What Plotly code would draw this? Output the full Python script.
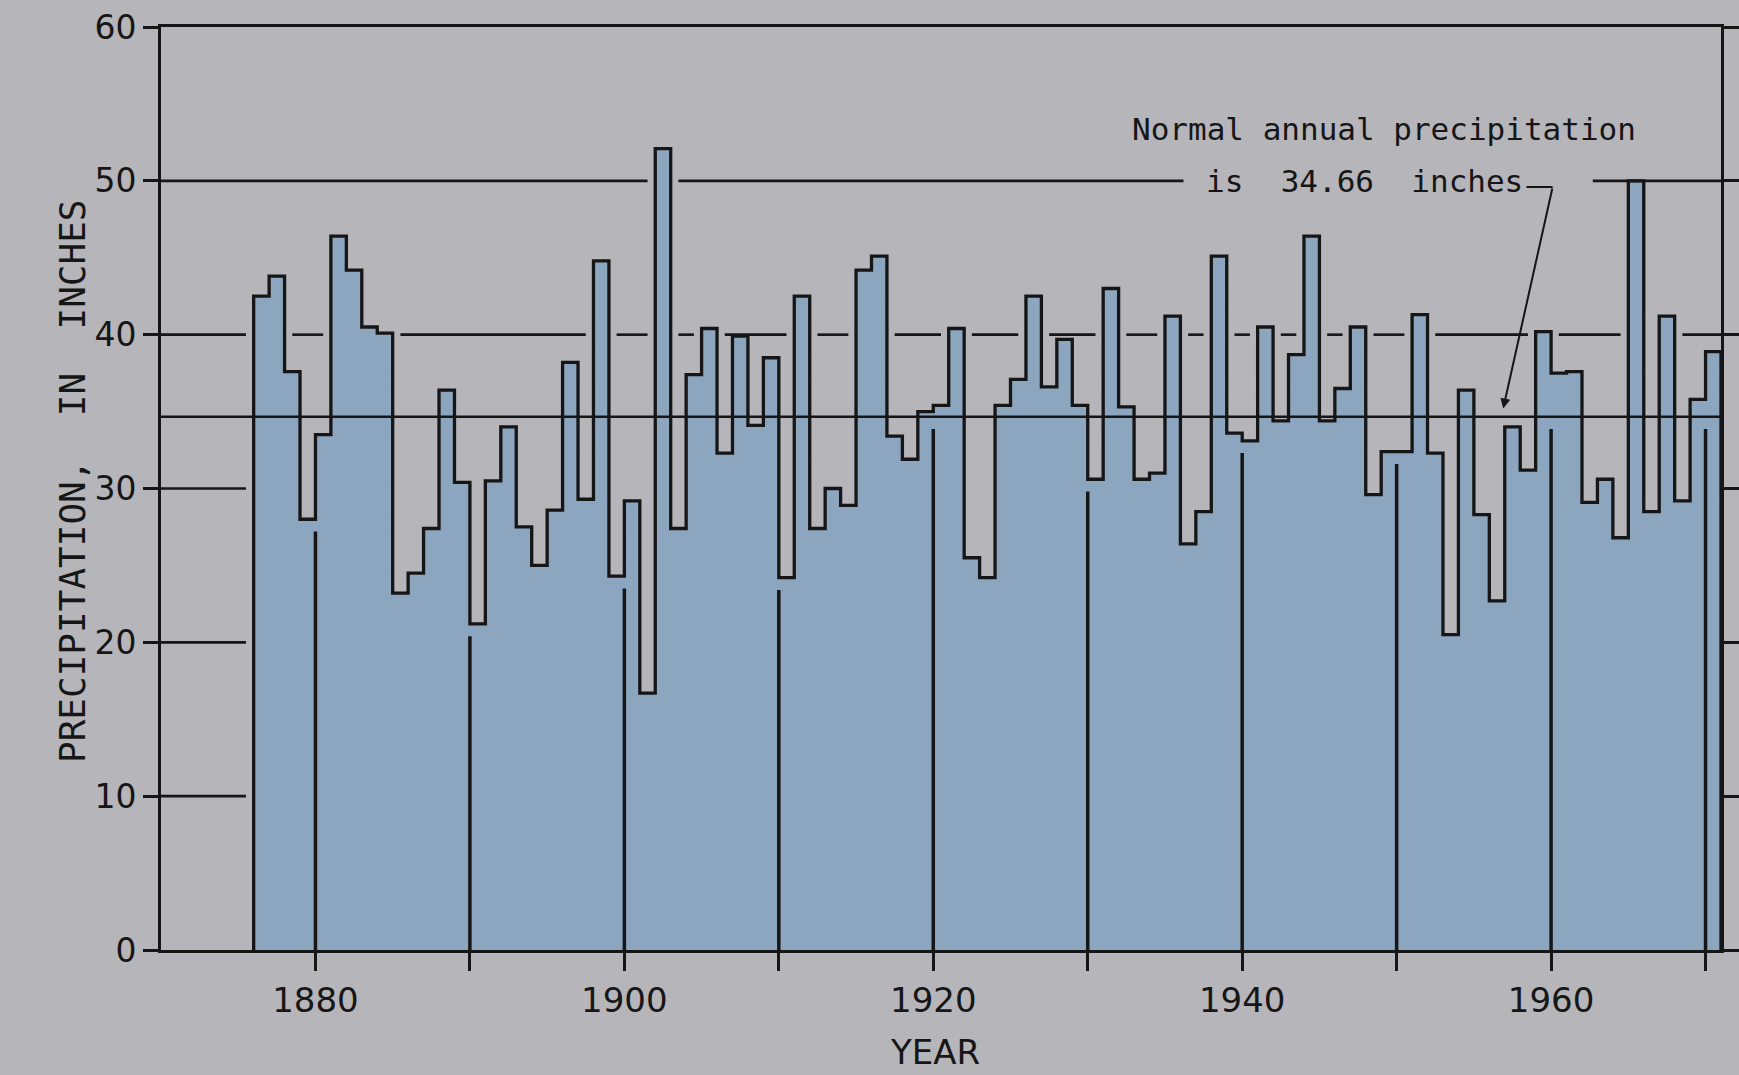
import plotly.graph_objects as go

# ---------------- data ----------------
years = list(range(1876, 1971))
precip = [
    42.5, 43.8, 37.6, 28.0,                                       # 1876-1879
    33.5, 46.4, 44.2, 40.5, 40.1, 23.2, 24.5, 27.4, 36.4, 30.4,   # 1880s
    21.2, 30.5, 34.0, 27.5, 25.0, 28.6, 38.2, 29.3, 44.8, 24.3,   # 1890s
    29.2, 16.7, 52.1, 27.4, 37.4, 40.4, 32.3, 39.9, 34.1, 38.5,   # 1900s
    24.2, 42.5, 27.4, 30.0, 28.9, 44.2, 45.1, 33.4, 31.9, 35.0,   # 1910s
    35.4, 40.4, 25.5, 24.2, 35.4, 37.1, 42.5, 36.6, 39.7, 35.4,   # 1920s
    30.6, 43.0, 35.3, 30.6, 31.0, 41.2, 26.4, 28.5, 45.1, 33.6,   # 1930s
    33.1, 40.5, 34.4, 38.7, 46.4, 34.4, 36.5, 40.5, 29.6, 32.4,   # 1940s
    32.4, 41.3, 32.3, 20.5, 36.4, 28.3, 22.7, 34.0, 31.2, 40.2,   # 1950s
    37.5, 37.6, 29.1, 30.6, 26.8, 50.0, 28.5, 41.2, 29.2, 35.8,   # 1960s
    38.9,                                                         # 1970
]
normal = 34.66

y_ticks = [0, 10, 20, 30, 40, 50, 60]
x_ticks = list(range(1880, 1971, 10))
x_ticklabels = ["1880", "", "1900", "", "1920", "", "1940", "", "1960", ""]
grid_full_levels = [40, 50]      # ruled across the chart
grid_short_levels = [10, 20, 30]  # only drawn before the first bar

# ---------------- style ----------------
BG = "#b5b5ba"
FILL = "#8da6c0"
INK = "#161616"
FONT = "DejaVu Sans"
MONO = "DejaVu Sans Mono"
X0, X1 = 1870, years[-1] + 1

fig = go.Figure()


def segments(level, extra_gaps=()):
    hidden = [(y - 0.5, y + 1.5) for y, v in zip(years, precip) if v > level]
    hidden += list(extra_gaps)
    hidden.sort()
    merged = []
    for a, b in hidden:
        if merged and a <= merged[-1][1]:
            merged[-1][1] = max(merged[-1][1], b)
        else:
            merged.append([a, b])
    xs, ys = [], []
    cur = X0
    for a, b in merged:
        if a > cur:
            xs += [cur, a, None]
            ys += [level, level, None]
        cur = max(cur, b)
    if cur < X1:
        xs += [cur, X1, None]
        ys += [level, level, None]
    return xs, ys


gx, gy = [], []
for lv in grid_full_levels:
    gaps = [(1936.2, 1962.7)] if lv == 50 else []
    xs, ys = segments(lv, gaps)
    gx += xs
    gy += ys
for lv in grid_short_levels:
    gx += [X0, years[0] - 0.5, None]
    gy += [lv, lv, None]
fig.add_trace(go.Scatter(x=gx, y=gy, mode="lines",
                         line=dict(color=INK, width=2.6),
                         hoverinfo="skip", showlegend=False))

# bar fill
fig.add_trace(go.Bar(x=years, y=precip, width=1, offset=0,
                     marker=dict(color=FILL, line=dict(width=0)),
                     showlegend=False))

# decade lines inside the bars
dx, dy = [], []
for d in x_ticks:
    i = years.index(d)
    top = min(precip[i - 1], precip[i], normal) - 0.8
    dx += [d, d, None]
    dy += [0, top, None]
fig.add_trace(go.Scatter(x=dx, y=dy, mode="lines",
                         line=dict(color=INK, width=3.5),
                         hoverinfo="skip", showlegend=False))

# normal line
fig.add_trace(go.Scatter(x=[X0, X1], y=[normal, normal], mode="lines",
                         line=dict(color=INK, width=2.6),
                         hoverinfo="skip", showlegend=False))

# step outline
sx = [years[0]] + years + [X1, X1]
sy = [0] + precip + [precip[-1], 0]
fig.add_trace(go.Scatter(x=sx, y=sy, mode="lines", line_shape="hv",
                         line=dict(color=INK, width=3.3),
                         hoverinfo="skip", showlegend=False))

# annotation text and arrow
fig.add_annotation(x=1949.2, y=53.4, xref="x", yref="y",
                   text="Normal annual precipitation", showarrow=False,
                   font=dict(family=MONO, size=31, color=INK))
fig.add_annotation(x=1947.9, y=50.0, xref="x", yref="y",
                   text="is  34.66  inches", showarrow=False,
                   font=dict(family=MONO, size=31, color=INK))
fig.add_shape(type="line", x0=1958.4, x1=1960.1, y0=49.6, y1=49.6,
              xref="x", yref="y", line=dict(color=INK, width=2))
fig.add_annotation(x=1956.9, y=35.2, ax=1960.1, ay=49.6,
                   xref="x", yref="y", axref="x", ayref="y",
                   text="", showarrow=True, arrowhead=2, arrowsize=1.0,
                   arrowwidth=2, arrowcolor=INK)

# axis titles
fig.add_annotation(x=0, y=0.5, xref="paper", yref="paper",
                   xshift=-111, yshift=7, textangle=-90,
                   text="PRECIPITATION,  IN  INCHES", showarrow=False,
                   font=dict(family=MONO, size=36, color=INK))
fig.add_annotation(x=0.5, y=0, xref="paper", yref="paper",
                   xshift=-6, yshift=-102, yanchor="middle",
                   text="YEAR", showarrow=False,
                   font=dict(family=FONT, size=34, color=INK))

fig.update_layout(
    width=1739, height=1075,
    margin=dict(l=161, r=18, t=27, b=125, autoexpand=False),
    paper_bgcolor=BG, plot_bgcolor=BG,
    bargap=0, showlegend=False,
    font=dict(family=FONT, color=INK),
)
fig.update_xaxes(range=[X0, X1], showgrid=False, zeroline=False,
                 showline=True, linewidth=3, linecolor=INK, mirror=True,
                 ticks="outside", ticklen=18, tickwidth=3, tickcolor=INK,
                 tickvals=x_ticks, ticktext=x_ticklabels,
                 tickfont=dict(family=FONT, size=34, color=INK),
                 automargin=False)
fig.update_yaxes(range=[0, 60], showgrid=False, zeroline=False,
                 showline=True, linewidth=3, linecolor=INK, mirror="ticks",
                 ticks="outside", ticklen=15, tickwidth=3, tickcolor=INK,
                 tickvals=y_ticks,
                 tickfont=dict(family=FONT, size=33, color=INK),
                 automargin=False)

fig.write_html(
    "out.html",
    config={"displayModeBar": False},
    post_script="document.body.style.margin='0';document.body.style.padding='0';"
                "document.body.style.overflow='hidden';",
)
